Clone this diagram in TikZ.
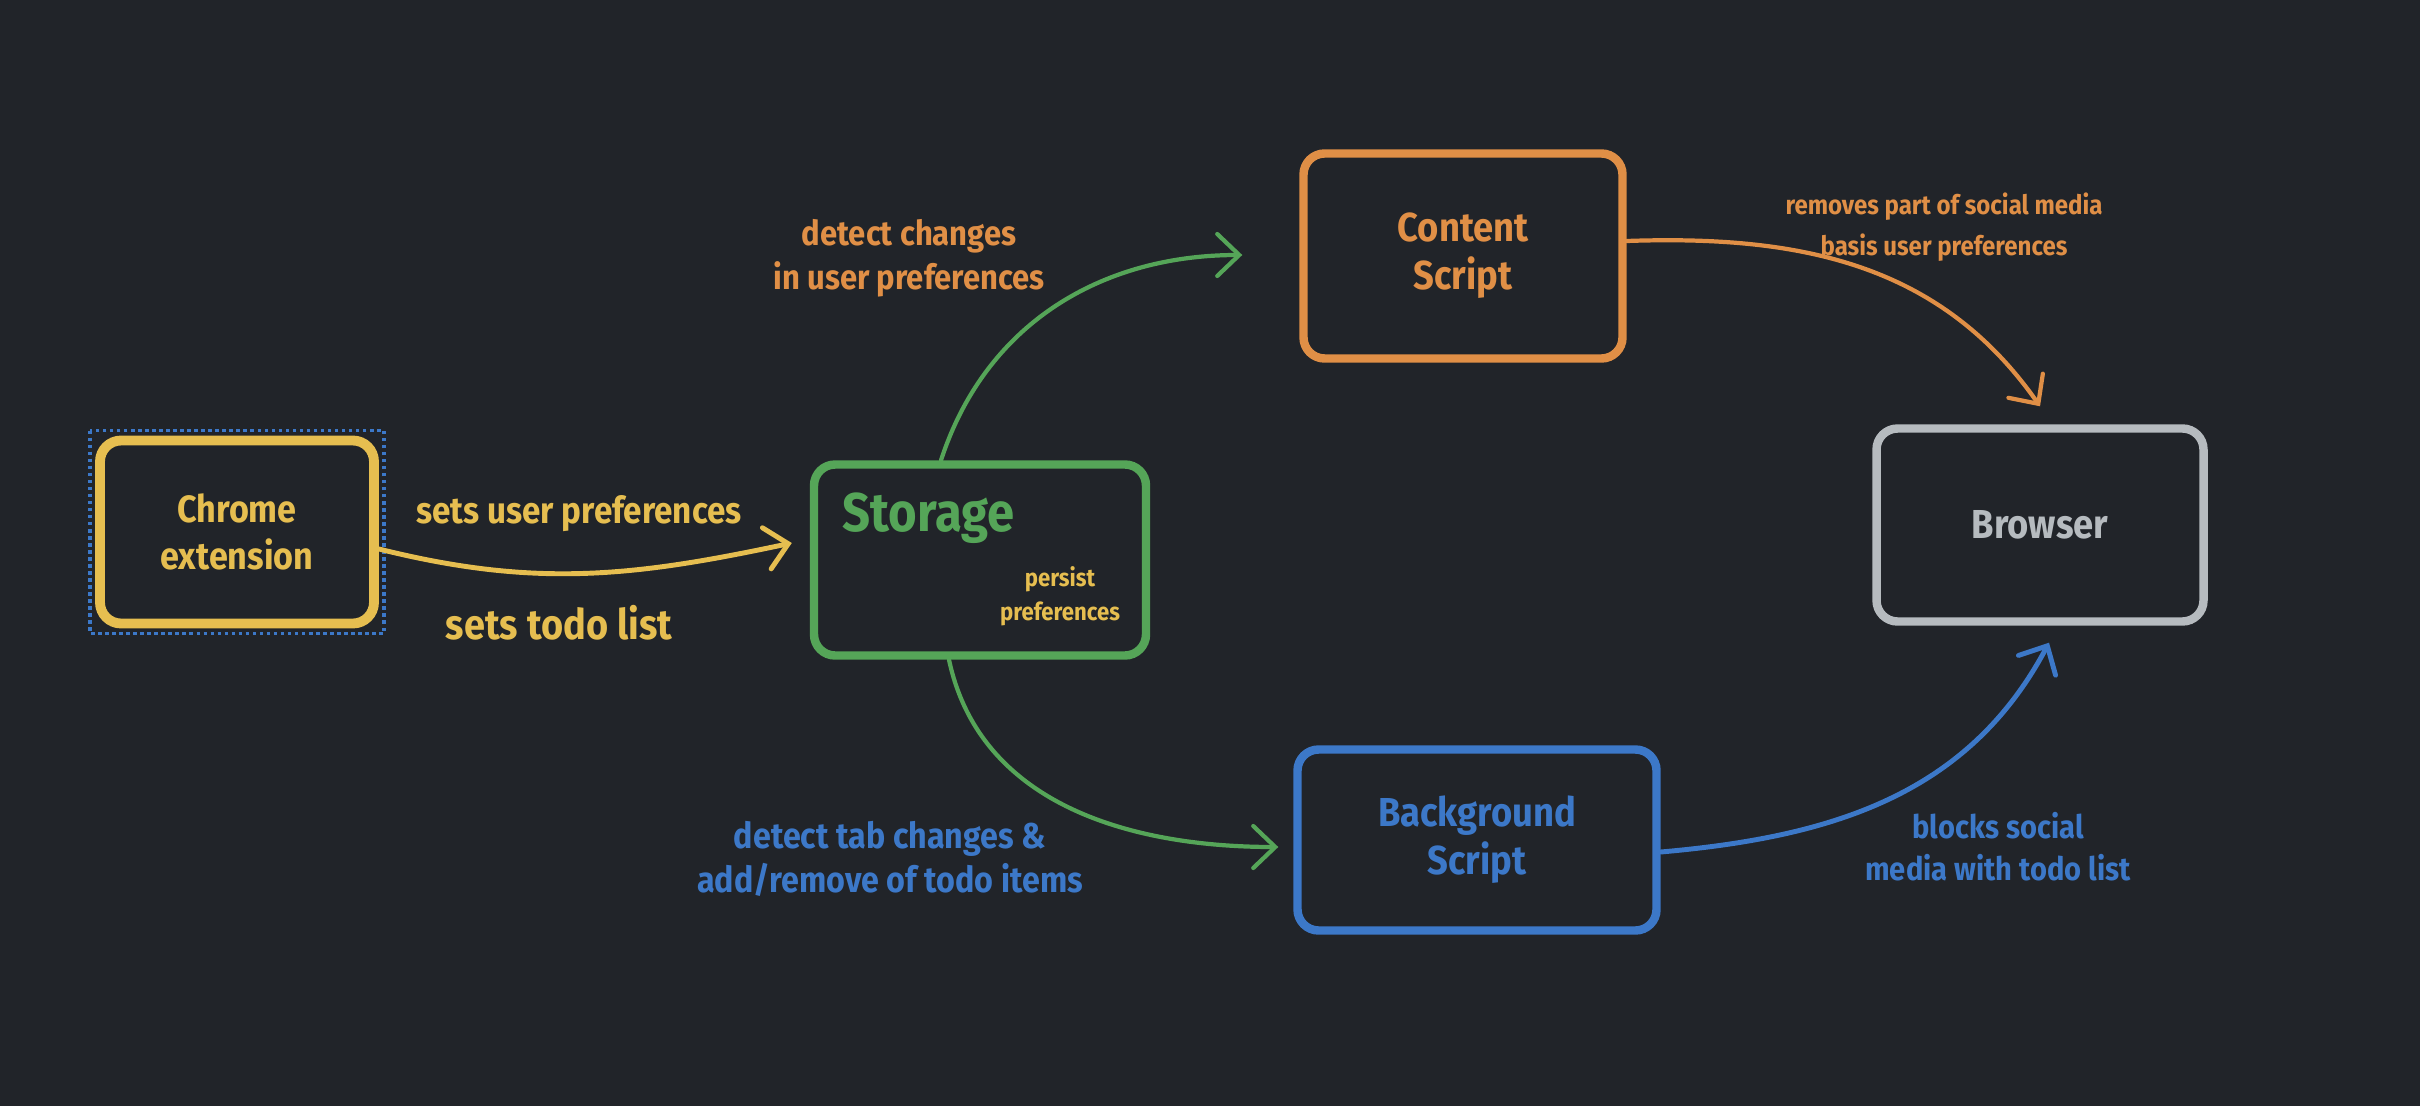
\documentclass[tikz,border=0pt]{standalone}
\usepackage{fontspec}
\setmainfont{Fira Sans}[FakeStretch=0.9]
\usepackage{xcolor}
\usetikzlibrary{arrows.meta,positioning}
\definecolor{canvas}{HTML}{212429}
\definecolor{yel}{HTML}{E6BE50}
\definecolor{ora}{HTML}{E08F46}
\definecolor{grn}{HTML}{55A558}
\definecolor{blu}{HTML}{3C78C8}
\definecolor{gry}{HTML}{B6BBBF}
\newcommand{\lbl}{\fontsize{10.5}{12.5}\selectfont\bfseries}

\begin{document}
\begin{tikzpicture}[
  font=\bfseries,
  box/.style={draw, line width=2.4pt, rounded corners=6pt, align=center,
              inner sep=0pt, font=\fontsize{11.5}{13.6}\selectfont\bfseries},
  arr/.style={-{Straight Barb[length=2.2mm, width=4.2mm, line cap=round]},
              line width=1.2pt, line cap=round},
  lab/.style={align=center, font=\lbl},
  sel/.style={draw=blu, densely dotted, line width=1pt}
]
\fill[canvas] (0,0) rectangle (24.2,-11.06);
\useasboundingbox (0,0) rectangle (24.2,-11.06);
% boxes
\node[box, draw=yel, text=yel, minimum width=2.74cm, minimum height=1.83cm,
  line width=2.8pt, font=\fontsize{10.8}{13.6}\selectfont\bfseries]
  (chrome) at (2.37,-5.32) {Chrome\\ extension};
\node[box, draw=grn, minimum width=3.32cm, minimum height=1.91cm]
  (storage) at (9.80,-5.60) {};
\node[box, draw=ora, text=ora, minimum width=3.19cm, minimum height=2.05cm]
  (content) at (14.63,-2.56) {Content\\ Script};
\node[box, draw=gry, text=gry, minimum width=3.27cm, minimum height=1.93cm]
  (browser) at (20.40,-5.25) {Browser};
\node[box, draw=blu, text=blu, minimum width=3.59cm, minimum height=1.81cm]
  (backgr) at (14.77,-8.40) {Background\\ Script};
\draw[sel] ([shift={(-0.05,0.05)}]chrome.north west) rectangle
  ([shift={(0.05,-0.05)}]chrome.south east);
% text inside storage
\node[text=grn, font=\fontsize{15.5}{18}\selectfont\bfseries, anchor=west]
  (storlbl) at (8.30,-5.18) {Storage};
\node[lab, text=yel, font=\fontsize{7}{9.6}\selectfont\bfseries]
  (persist) at (10.60,-5.96) {persist\\ preferences};
% arrows
\draw[arr, draw=yel, line width=1.4pt] ([yshift=-1.7mm]chrome.east)
  to[out=-14, in=192] ([shift={(-1.8mm,1.7mm)}]storage.west);
\draw[arr, draw=grn] ([xshift=-3.9mm]storage.north)
  to[out=72, in=180] ([shift={(-5.7mm,0.1mm)}]content.west);
\draw[arr, draw=grn] ([xshift=-3.1mm]storage.south)
  to[out=-78, in=180] ([shift={(-1.5mm,-0.7mm)}]backgr.west);
\draw[arr, draw=ora] ([yshift=1.5mm]content.east)
  to[out=2, in=125] ([yshift=1.8mm]browser.north);
\draw[arr, draw=blu, line width=1.4pt] ([yshift=-1.2mm]backgr.east)
  to[out=5, in=242] ([shift={(0.9mm,-1.7mm)}]browser.south);
% connector labels
\node[lab, text=yel] (setpref) at (5.79,-5.14) {sets user preferences};
\node[lab, text=yel, font=\fontsize{12}{14}\selectfont\bfseries]
  (settodo) at (5.59,-6.23) {sets todo list};
\node[lab, text=ora, font=\fontsize{9.8}{12.5}\selectfont\bfseries]
  (detpref) at (9.09,-2.58) {detect changes\\ in user preferences};
\node[lab, text=ora, font=\fontsize{7.6}{11.5}\selectfont\bfseries]
  (removes) at (19.44,-2.27) {removes part of social media\\ basis user preferences};
\node[lab, text=blu, font=\fontsize{10.2}{12.5}\selectfont\bfseries]
  (dettab) at (8.90,-8.59) {detect tab changes \&\\ add/remove of todo items};
\node[lab, text=blu, font=\fontsize{9.2}{12}\selectfont\bfseries]
  (blocks) at (19.98,-8.47) {blocks social\\ media with todo list};
\end{tikzpicture}
\end{document}
